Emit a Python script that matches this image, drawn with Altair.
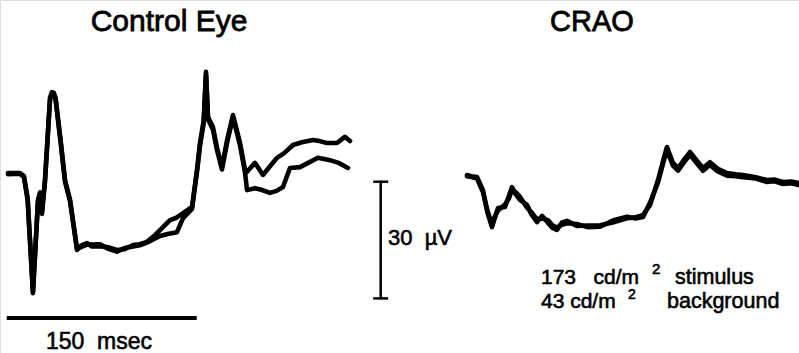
import altair as alt
import pandas as pd

# ---- ERG traces: time in ms, amplitude in microvolts -------------------
# Control eye, two superimposed sweeps (shared early portion, diverging later)
ctrl_t_a = [0, 9.5, 12.6, 15.5, 19.7, 23.7, 25.3, 26.8, 29.2, 33.2, 34.7, 36.2,
            37.6, 41.5, 45, 49, 54.5, 58, 62.4, 66, 72.6, 79, 86, 92, 98.7, 104,
            109.7, 115, 120, 127.9, 133, 138.2, 145.3, 149.2, 151.6, 154.5, 156.3,
            157.9, 161.8, 165, 168.9, 173, 177.6, 183.2, 187.1, 188.7, 195, 201.3,
            207, 212.4, 218, 225, 232, 240.8, 246, 251.8, 259.7, 266, 270]
ctrl_v_a = [0, 0, -0.8, -6.5, -30.9, -6.9, -5.0, -10.5, -1.8, 19.4, 20.8, 20.6,
            19.2, 8.5, -1.8, -6.9, -19.8, -18.6, -18, -18.9, -18.8, -19.1, -19.8,
            -19.6, -18.5, -18.3, -17.7, -16.3, -14.7, -12.1, -11.5, -10.3, -8.7,
            0.8, 7.7, 13.5, 26, 14.4, 11.8, 6.5, 1.5, 8.5, 14.9, 7.7, 0.8, 0.3, 2.6,
            -0.5, 1.8, 3.9, 5.1, 7.2, 7.9, 8.5, 8.2, 7.7, 7.7, 9.3, 8.2]

ctrl_t_b = [0, 9.5, 12.6, 15.5, 19.7, 23.7, 25.3, 26.8, 29.2, 33.2, 34.7, 36.2,
            37.6, 41.5, 45, 49, 54.5, 58, 62.4, 66, 72.6, 79, 86, 92, 98.7, 104,
            109.7, 115, 120, 126, 133.4, 138.2, 145.3, 149.2, 151.6, 154.5, 156.3,
            157.9, 161.8, 165, 168.9, 173, 177.6, 183.2, 187.1, 188.7, 195, 200,
            206.8, 212, 217.1, 222.6, 230.5, 237, 244.7, 254.2, 261, 268.4]
ctrl_v_b = [-0.3, -0.2, -1.1, -6.9, -30.5, -7.2, -5.3, -10.0, -2.2, 18.9, 20.3,
            20.1, 18.8, 8.0, -2.2, -7.3, -19.5, -19.0, -18.4, -18.4, -18.3, -19.5,
            -20.2, -19.3, -18.9, -18.6, -17.9, -17.0, -16.2, -15.7, -15.2, -11.6,
            -9.2, 0.3, 7.1, 12.9, 25.3, 13.8, 11.2, 5.9, 0.9, 7.9, 14.3, 7.1, 0.2,
            -4.4, -3.9, -4.3, -5.1, -4.6, -3.6, 1.3, 1.5, 2.6, 3.9, 3.3, 2.6, 1.3]

# CRAO eye, two superimposed sweeps
crao_t = [0, 3.5, 7.9, 12.6, 16, 19.7, 22, 24.5, 30, 33, 35.5, 38.5, 41.8, 47.4,
          51, 55.3, 59.2, 63.9, 67.5, 71, 75, 79, 86.8, 95, 105, 115, 126.3, 133,
          139, 144.5, 150.8, 155.5, 157.9, 160, 162.6, 166.6, 171, 176, 181, 186.3,
          191.8, 198, 205.3, 212, 217.9, 228, 236.8, 243, 249.5, 256, 262]
crao_v_a = [0, -0.3, -0.5, -3.9, -9.5, -13.4, -11.0, -8.5, -8.2, -5.5, -3.1,
            -5.0, -6.4, -7.7, -10.2, -12.1, -10.5, -12.3, -13.6, -14.1, -12.2,
            -11.8, -13.1, -13.0, -12.9, -12.2, -11.1, -10.9, -10.3, -7.7, -1.3, 4.5,
            7.2, 5.3, 3.1, 1.8, 3.8, 5.9, 3.9, 1.8, 3.3, 1.6, 0.5, 0.2, 0, -0.6,
            -1.3, -1.2, -1.8, -1.7, -2.1]
crao_v_b = [-0.3, -0.5, -0.9, -4.4, -9.0, -12.8, -10.6, -9.1, -7.6, -6.1, -3.8,
            -4.4, -5.6, -8.4, -9.6, -11.4, -11.2, -11.6, -12.9, -13.5, -12.8,
            -12.4, -12.6, -13.4, -13.3, -11.7, -10.7, -11.2, -10.8, -7.1, -1.9, 3.8,
            6.5, 4.6, 2.4, 1.1, 3.1, 5.2, 3.2, 1.1, 2.6, 0.9, -0.2, -0.3, -0.6, -0.9,
            -1.8, -1.6, -2.3, -2.1, -2.6]

# calibration bars
time_bar_ms = 150
volt_bar_uv = 30

# ---- layout (ms / uV on one shared canvas) ------------------------------
PX_PER_MS = 190 / 150
PX_PER_UV = 116.7 / 30
W, H = 799, 353
X0_PX, Y0_PX = 8, 173                       # origin of the control traces
x_dom = [-X0_PX / PX_PER_MS, (W - X0_PX) / PX_PER_MS]
y_dom = [-(H - Y0_PX) / PX_PER_UV, Y0_PX / PX_PER_UV]
CRAO_DT = (467 - X0_PX) / PX_PER_MS          # horizontal shift of right panel
CRAO_DV = (Y0_PX - 175) / PX_PER_UV          # vertical shift of right panel


def trace(ts, vs, name, dt=0.0, dv=0.0):
    return pd.DataFrame({"t": [t + dt for t in ts], "v": [v + dv for v in vs],
                         "order": range(len(ts)), "sweep": name})


traces = pd.concat([
    trace(ctrl_t_a, ctrl_v_a, "ctrl_a"),
    trace(ctrl_t_b, ctrl_v_b, "ctrl_b"),
    trace(crao_t, crao_v_a, "crao_a", CRAO_DT, CRAO_DV),
    trace(crao_t, crao_v_b, "crao_b", CRAO_DT, CRAO_DV),
])

xs = alt.Scale(domain=x_dom, nice=False, zero=False)
ys = alt.Scale(domain=y_dom, nice=False, zero=False)
X = lambda f: alt.X(f, type="quantitative", scale=xs, axis=None)
Y = lambda f: alt.Y(f, type="quantitative", scale=ys, axis=None)

lines = alt.Chart(traces).mark_line(
    color="black", strokeWidth=4.6, strokeJoin="round", strokeCap="round",
    interpolate="linear"
).encode(x=X("t"), y=Y("v"), detail="sweep:N", order="order:Q")

# horizontal time calibration bar
tb_v = (Y0_PX - 318) / PX_PER_UV
tbar = alt.Chart(pd.DataFrame({"t": [-1.0], "t2": [-1.0 + time_bar_ms], "v": [tb_v]})
                 ).mark_rule(color="black", strokeWidth=4).encode(
    x=X("t"), x2="t2", y=Y("v"))

# vertical amplitude calibration bar with end caps
vb_t = (380.7 - X0_PX) / PX_PER_MS
vb_top = (Y0_PX - 181.7) / PX_PER_UV
vbar = alt.Chart(pd.DataFrame({"t": [vb_t], "v": [vb_top], "v2": [vb_top - volt_bar_uv]})
                 ).mark_rule(color="black", strokeWidth=2.5).encode(
    x=X("t"), y=Y("v"), y2="v2")
cap_half = 7.5 / PX_PER_MS
caps = alt.Chart(pd.DataFrame({"t": [vb_t - cap_half] * 2, "t2": [vb_t + cap_half] * 2,
                               "v": [vb_top, vb_top - volt_bar_uv]})
                 ).mark_rule(color="black", strokeWidth=2.5).encode(
    x=X("t"), x2="t2", y=Y("v"))


def px_t(x):
    return (x - X0_PX) / PX_PER_MS


def px_v(y):
    return (Y0_PX - y) / PX_PER_UV


FONT = "Liberation Sans"


def label(text, x, y, size, align="left", weight=0.6):
    return alt.Chart(pd.DataFrame({"t": [px_t(x)], "v": [px_v(y)], "s": [text]})
                     ).mark_text(font=FONT, fontSize=size, align=align,
                                 baseline="alphabetic", color="black",
                                 stroke="black", strokeWidth=weight).encode(
        x=X("t"), y=Y("v"), text="s:N")


NB = "\u00a0"
texts = [
    label("Control Eye", 169, 31, 30, "center", 0.8),
    label("CRAO", 592, 31, 29, "center", 0.8),
    label("150" + NB * 2 + "msec", 99, 349, 23, "center"),
    label("30" + NB * 2 + "\u00b5V", 388, 245, 22),
    label("173" + NB * 3 + "cd/m", 541, 284, 21),
    label("2", 652, 274, 15),
    label("stimulus", 675, 284, 21.5),
    label("43" + NB + "cd/m", 541, 308, 21),
    label("2", 628, 299, 14),
    label("background", 667, 308, 21.5),
]

chart = alt.layer(lines, tbar, vbar, caps, *texts).properties(
    width=W, height=H, padding=0, autosize=alt.AutoSizeParams(type="none")
).configure_view(stroke=None).configure(background="white")

chart.save("out.html", embed_options={"renderer": "svg", "actions": False})
